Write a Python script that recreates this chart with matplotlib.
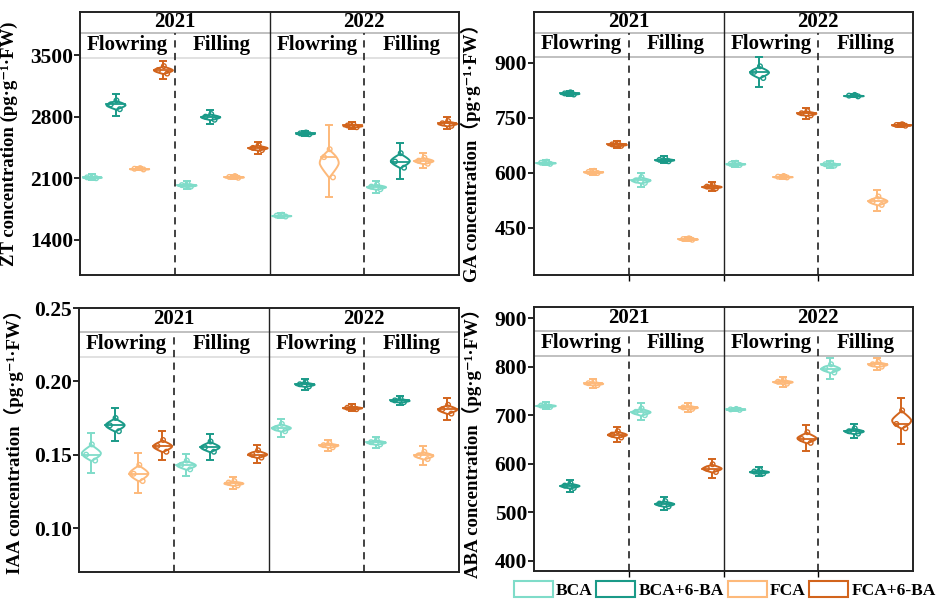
import numpy as np
import matplotlib
matplotlib.use("Agg")
import matplotlib.pyplot as plt
from matplotlib import cbook, mlab
from matplotlib.patches import Patch
from matplotlib.font_manager import FontProperties

# ---------------- data ----------------
years = ["2021", "2022"]
stages = ["Flowring", "Filling"]
treatments = ["BCA", "BCA+6-BA", "FCA", "FCA+6-BA"]
colors = ["#7fdcc9", "#1a9a88", "#fdb97a", "#d2641c"]

# order: 2021 Flowring (4 trt), 2021 Filling, 2022 Flowring, 2022 Filling
zt_r1 = [2100, 2885, 2200, 3290, 2005, 2765, 2105, 2420, 1665, 2600, 2110, 2680, 1975, 2220, 2265, 2695]
zt_r2 = [2110, 2940, 2208, 3330, 2022, 2800, 2115, 2445, 1675, 2610, 2340, 2700, 2005, 2290, 2300, 2725]
zt_r3 = [2125, 2985, 2215, 3375, 2040, 2830, 2125, 2475, 1685, 2620, 2430, 2715, 2030, 2385, 2335, 2750]

ga_r1 = [624, 813, 599, 673, 572, 631, 417, 557, 621, 858, 587, 756, 619, 808, 512, 728]
ga_r2 = [627, 816, 602, 677, 579, 635, 419, 562, 624, 875, 589, 762, 623, 810, 522, 730]
ga_r3 = [630, 819, 605, 681, 588, 639, 421, 567, 627, 890, 591, 768, 627, 812, 535, 732]

iaa_r1 = [0.146, 0.166, 0.132, 0.152, 0.140, 0.152, 0.129, 0.148, 0.166, 0.1965, 0.155, 0.181, 0.157, 0.1858, 0.147, 0.178]
iaa_r2 = [0.150, 0.170, 0.137, 0.156, 0.143, 0.155, 0.131, 0.150, 0.168, 0.198, 0.1565, 0.182, 0.1585, 0.187, 0.1495, 0.181]
iaa_r3 = [0.157, 0.175, 0.143, 0.160, 0.146, 0.159, 0.132, 0.153, 0.171, 0.1995, 0.158, 0.183, 0.160, 0.1882, 0.152, 0.184]

aba_r1 = [717, 550, 762, 654, 700, 512, 713, 583, 711, 580, 765, 643, 788, 662, 800, 673]
aba_r2 = [720, 555, 766, 660, 707, 518, 716, 590, 712, 584, 769, 651, 796, 667, 805, 682]
aba_r3 = [723, 560, 769, 667, 714, 523, 720, 599, 713, 587, 773, 665, 805, 673, 810, 710]

zt_ticks = [1400, 2100, 2800, 3500]
ga_ticks = [450, 600, 750, 900]
iaa_ticks = [0.10, 0.15, 0.20, 0.25]
aba_ticks = [400, 500, 600, 700, 800, 900]

T975_DF2 = 4.303  # t quantile for 95% CI with n=3

# ---------------- style ----------------
SERIF = ["Liberation Serif", "DejaVu Serif", "Noto Sans CJK SC"]
plt.rcParams["font.family"] = SERIF
plt.rcParams["font.weight"] = "bold"

fig = plt.figure(figsize=(9.41, 6.0), dpi=100)
fig.patch.set_facecolor("white")


def kde_taper(X, coords):
    X = np.asarray(X, float)
    kde = mlab.GaussianKDE(X, "scott")
    d = kde.evaluate(coords)
    lo, hi = X.min(), X.max()
    u = (coords - lo) / (hi - lo) * 2 - 1
    return d * (1 - np.abs(u) ** 1.6)


def draw_panel(rect, reps, ylim, ticks, ylabel, fmt, label_xy, ticks_bottom,
               f_year, f_stage, stage_line_color):
    ax = fig.add_axes(rect)
    data = np.column_stack(reps)
    positions = []
    cols = []
    for yi in range(len(years)):
        for si in range(len(stages)):
            for ti in range(len(treatments)):
                positions.append(1 + yi * 8 + si * 4 + ti)
                cols.append(colors[ti])
    positions = np.array(positions, float)

    # error bars (mean +/- 95% CI)
    means = data.mean(axis=1)
    ci = T975_DF2 * data.std(axis=1, ddof=1) / np.sqrt(data.shape[1])
    for p, m, e, c in zip(positions, means, ci, cols):
        ax.errorbar(p, m, yerr=e, fmt="none", ecolor=c, elinewidth=1.4,
                    capsize=3, capthick=1.4, zorder=2)

    stats = cbook.violin_stats(list(data), kde_taper, points=100)
    width = 0.8
    parts = ax.violin(stats, positions=positions, widths=width,
                      showextrema=False, showmeans=False, showmedians=False)
    for body, c in zip(parts["bodies"], cols):
        body.set_facecolor("white")
        body.set_edgecolor(c)
        body.set_linewidth(1.4)
        body.set_alpha(1)
        body.set_zorder(3)

    # median line across violin
    for st, p, c in zip(stats, positions, cols):
        med = st["median"]
        v = np.interp(med, st["coords"], st["vals"]) / st["vals"].max()
        hw = v * width / 2
        ax.plot([p - hw, p + hw], [med, med], color=c, lw=1.3, zorder=4)

    jit = [0.18, -0.2, 0.04]
    for k in range(data.shape[1]):
        ax.scatter(positions + jit[k], data[:, k], s=11, facecolors="none",
                   edgecolors=cols, linewidths=1.0, zorder=5)

    ax.set_xlim(0.5, 16.5)
    ax.set_ylim(*ylim)
    ax.set_yticks(ticks)
    ax.set_yticklabels([fmt.format(t) for t in ticks],
                       fontsize=15.5, fontweight="bold", family=SERIF)
    if ticks_bottom:
        ax.set_xticks([4.5, 8.5, 12.5])
        ax.set_xticklabels([])
        ax.tick_params(axis="x", length=4, width=1)
    else:
        ax.set_xticks([])
    ax.tick_params(axis="y", length=4, width=1.2, pad=1)
    for s in ax.spines.values():
        s.set_linewidth(1.4)
        s.set_color("#222222")

    ax.set_ylabel(ylabel, fontsize=13.5, fontweight="bold", family=SERIF)
    ax.yaxis.set_label_coords(*label_xy)

    # strips
    tr = ax.get_xaxis_transform()
    ax.plot([0.5, 16.5], [f_year, f_year], transform=tr, color="#b5b5b5",
            lw=1.2, zorder=1)
    ax.plot([0.5, 16.5], [f_stage, f_stage], transform=tr, color=stage_line_color,
            lw=1.2, zorder=1)
    ax.axvline(8.5, color="#222222", lw=1.0, zorder=1)
    for xv in (4.5, 12.5):
        ax.plot([xv, xv], [0, f_year], transform=tr, color="#333333", lw=1.3,
                linestyle=(0, (4, 3)), zorder=1)
    for yi, yr in enumerate(years):
        ax.text(4.5 + yi * 8, (1 + f_year) / 2 + 0.003, yr, transform=tr,
                ha="center", va="center", fontsize=15, fontweight="bold",
                family=SERIF)
        for si, st in enumerate(stages):
            ax.text(2.5 + yi * 8 + si * 4, (f_year + f_stage) / 2 + 0.003, st,
                    transform=tr, ha="center", va="center", fontsize=15,
                    fontweight="bold", family=SERIF)
    return ax


W, H = 941, 600


def rect(l, r, t, b):
    return [l / W, 1 - b / H, (r - l) / W, (b - t) / H]


draw_panel(rect(80, 459, 12, 275), [zt_r1, zt_r2, zt_r3], (1000, 3990), zt_ticks,
           "ZT concentration (pg·g⁻¹·FW)", "{:.0f}", (-0.163, 0.5), False,
           0.92, 0.825, "#dcdcdc")
draw_panel(rect(534, 913, 12, 275), [ga_r1, ga_r2, ga_r3], (321, 1038), ga_ticks,
           "GA concentration（pg·g⁻¹·FW）", "{:.0f}", (-0.14, 0.48), True,
           0.92, 0.829, "#b5b5b5")
draw_panel(rect(79, 459, 308, 572), [iaa_r1, iaa_r2, iaa_r3], (0.070, 0.25), iaa_ticks,
           "IAA concentration（pg·g⁻¹·FW）", "{:.2f}", (-0.145, 0.51), False,
           0.909, 0.814, "#dcdcdc")
draw_panel(rect(534, 913, 307, 571), [aba_r1, aba_r2, aba_r3], (379, 923), aba_ticks,
           "ABA concentration（pg·g⁻¹·FW）", "{:.0f}", (-0.138, 0.5), True,
           0.909, 0.814, "#b5b5b5")

handles = [Patch(facecolor="white", edgecolor=c, linewidth=1.5) for c in colors]
fig.legend(handles, treatments, loc="lower right", bbox_to_anchor=(1.004, -0.012),
           ncol=4, frameon=False, prop=FontProperties(family=SERIF, weight="bold", size=12.5),
           handlelength=2.25, handleheight=1.05, handletextpad=0.2,
           columnspacing=0.2, borderaxespad=0.1)

fig.savefig("out.png", dpi=100, facecolor="white")
